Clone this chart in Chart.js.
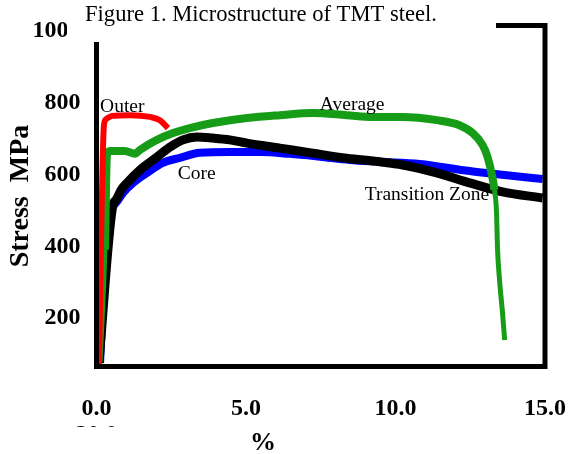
<!DOCTYPE html>
<html>
<head>
<meta charset="utf-8">
<script src="https://cdn.jsdelivr.net/npm/chart.js@4.4.1/dist/chart.umd.min.js"></script>
<style>
  html, body { margin: 0; padding: 0; background: #fff; }
</style>
</head>
<body>
<canvas id="stressChart" width="577" height="454"></canvas>
<script>
// strain (%) and stress (MPa)
const outerStrain = [0.08, 0.25, 0.32, 0.52, 1.12, 1.79, 2.12, 2.39];
const outerStress = [69, 739, 755, 764, 766, 761, 752, 730];

const averageStrain = [0.12, 0.28, 0.35, 0.45, 0.95, 1.29, 1.45, 2.02, 2.56, 3.12, 3.89, 5.03, 6.13, 7.23, 8.37, 9.24, 10.24, 11.38, 12.14, 12.58, 12.91, 13.08, 13.21, 13.31, 13.38, 13.41, 13.48, 13.58, 13.65];
const averageStress = [78, 390, 655, 666, 666, 658, 669, 697, 716, 730, 744, 758, 766, 772, 766, 761, 761, 752, 738, 716, 683, 649, 605, 557, 493, 398, 306, 214, 139];

const coreStrain = [0.12, 0.35, 0.45, 0.68, 0.89, 1.22, 1.69, 2.22, 2.79, 3.46, 4.46, 5.46, 6.46, 7.47, 8.47, 9.47, 10.81, 12.48, 13.65, 14.92];
const coreStress = [75, 473, 501, 524, 549, 577, 605, 633, 647, 661, 663, 663, 658, 650, 641, 636, 630, 610, 599, 588];

const transitionStrain = [0.08, 0.55, 0.65, 0.72, 0.82, 1.02, 1.45, 2.02, 2.46, 2.89, 3.36, 3.89, 4.46, 5.03, 6.13, 7.23, 8.37, 9.47, 10.24, 11.38, 12.48, 13.58, 14.92];
const transitionStress = [75, 515, 529, 540, 557, 577, 613, 649, 677, 697, 705, 702, 697, 688, 674, 660, 646, 636, 627, 605, 577, 552, 535];

const xTicks = [0, 5, 10, 15];
const yTicks = [200, 400, 600, 800, 1000];

const pairs = (xs, ys) => xs.map((x, i) => ({x: x, y: ys[i]}));

// curve names, placed in data units
const curveLabels = [
    {text: 'Outer', x: 0.12, y: 775},
    {text: 'Average', x: 7.47, y: 780},
    {text: 'Core', x: 2.72, y: 588},
    {text: 'Transition Zone', x: 8.97, y: 529}
];

const serif = '"Liberation Serif", "Times New Roman", serif';

const framePlugin = {
    id: 'frame',
    afterDatasetsDraw(chart) {
        const {ctx, chartArea: a, scales} = chart;
        ctx.save();
        ctx.strokeStyle = '#000';
        ctx.lineWidth = 5;
        ctx.lineJoin = 'miter';
        ctx.strokeRect(a.left, a.top, a.right - a.left, a.bottom - a.top);

        ctx.fillStyle = '#000';
        ctx.font = '19.5px ' + serif;
        ctx.textAlign = 'left';
        ctx.textBaseline = 'alphabetic';
        curveLabels.forEach(l => {
            ctx.fillText(l.text, scales.x.getPixelForValue(l.x), scales.y.getPixelForValue(l.y));
        });
        ctx.restore();
    },
    afterDraw(chart) {
        const {ctx} = chart;
        ctx.save();
        // caption box over the top of the plot
        ctx.fillStyle = '#fff';
        ctx.fillRect(67, 0, 429, 42);
        ctx.fillRect(40, 427, 200, 27);
        ctx.fillStyle = '#000';
        ctx.textAlign = 'center';
        ctx.textBaseline = 'alphabetic';
        ctx.font = '22.6px ' + serif;
        ctx.fillText('Figure 1. Microstructure of TMT steel.', 261, 21);
        ctx.font = 'bold 26px ' + serif;
        ctx.fillText('%', 263, 450);
        ctx.restore();
    }
};

const data = {
    datasets: [
        {
            label: 'Outer',
            data: pairs(outerStrain, outerStress),
            borderColor: '#ff0000',
            borderWidth: 6,
            order: 0,
            segment: {
                borderWidth: c => c.p1.parsed.y < 735 && c.p0.parsed.x < 1 ? 3 : 6
            }
        },
        {
            label: 'Average',
            data: pairs(averageStrain, averageStress),
            borderColor: '#169c16',
            borderWidth: 8,
            order: 1,
            segment: {
                borderWidth: c => (c.p0.parsed.x > 13.3 || c.p1.parsed.y < 500) ? 5 : 8
            }
        },
        {
            label: 'Transition Zone',
            data: pairs(transitionStrain, transitionStress),
            borderColor: '#000000',
            borderWidth: 9,
            order: 2
        },
        {
            label: 'Core',
            data: pairs(coreStrain, coreStress),
            borderColor: '#0000ff',
            borderWidth: 8,
            order: 3
        }
    ]
};

const tickFont = {family: serif, size: 24, weight: 'bold', lineHeight: 1.1};

const config = {
    type: 'line',
    data,
    options: {
        responsive: false,
        animation: false,
        cubicInterpolationMode: 'monotone',
        elements: {
            point: {radius: 0},
            line: {capStyle: 'round', borderJoinStyle: 'round'}
        },
        layout: {
            padding: {top: 25.5, right: 32, left: 0, bottom: 0}
        },
        scales: {
            x: {
                type: 'linear',
                min: 0,
                max: 15,
                afterBuildTicks: s => { s.ticks = xTicks.map(v => ({value: v})); },
                afterFit: s => {
                    s.height = 87.5;
                    s.paddingLeft = 0;
                    s.paddingRight = 0;
                },
                grid: {display: false},
                border: {display: false},
                ticks: {
                    padding: 20.8,
                    color: '#000',
                    font: tickFont,
                    maxRotation: 0,
                    callback: v => v === 0 ? ['0.0', '20.0'] : v.toFixed(1)
                }
            },
            y: {
                type: 'linear',
                min: 65,
                max: 1016,
                afterBuildTicks: s => { s.ticks = yTicks.map(v => ({value: v})); },
                afterFit: s => {
                    s.width = 96.5;
                    s.paddingTop = 0;
                    s.paddingBottom = 0;
                },
                grid: {display: false},
                border: {display: false},
                ticks: {
                    padding: 8,
                    color: '#000',
                    font: tickFont,
                    callback: v => String(v)
                },
                title: {
                    display: true,
                    text: 'Stress  MPa',
                    color: '#000',
                    font: {family: serif, size: 28, weight: 'bold'},
                    padding: {top: 4, bottom: 0}
                }
            }
        },
        plugins: {
            legend: {display: false},
            tooltip: {enabled: false}
        }
    },
    plugins: [framePlugin]
};

const stressChart = new Chart(document.getElementById('stressChart'), config);
</script>
</body>
</html>
